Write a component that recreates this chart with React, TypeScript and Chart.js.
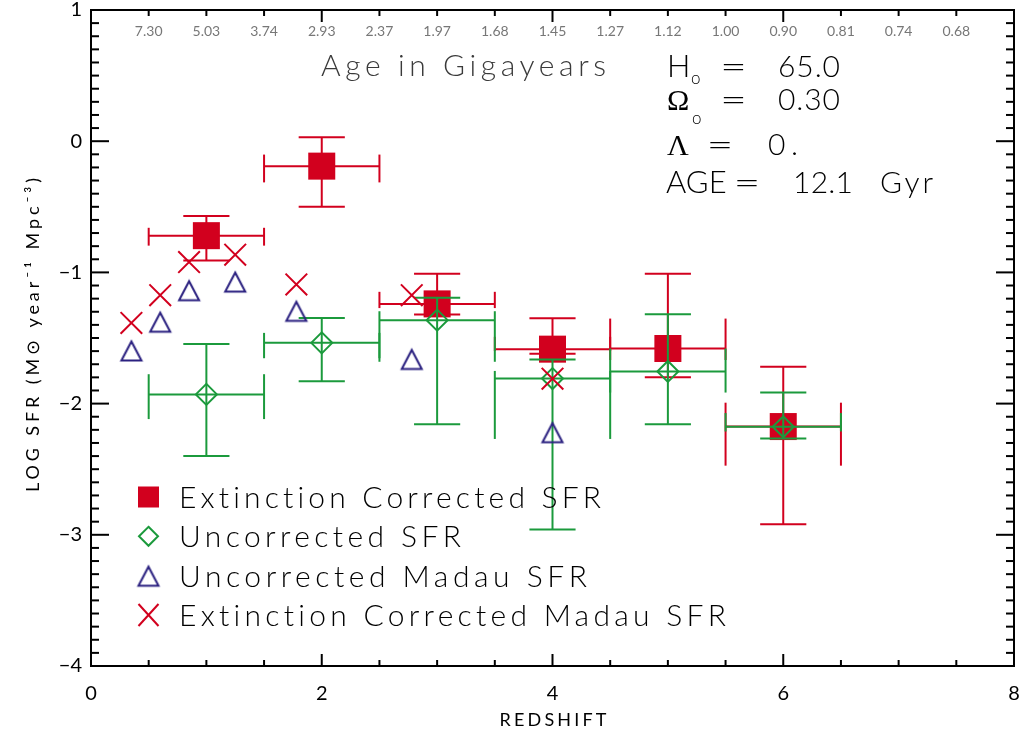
import React, { useEffect, useRef } from 'react';
import { Chart, registerables } from 'chart.js';

Chart.register(...registerables);

// Binned star-formation-rate density (log, per redshift bin)
const redshiftBins = [1, 2, 3, 4, 5, 6];
const binLow = [0.5, 1.5, 2.5, 3.5, 4.5, 5.5];
const binHigh = [1.5, 2.5, 3.5, 4.5, 5.5, 6.5];

const corrSfr = [-0.72, -0.19, -1.24, -1.585, -1.58, -2.175];
const corrSfrHigh = [-0.57, 0.03, -1.01, -1.35, -1.01, -1.72];
const corrSfrLow = [-0.91, -0.5, -1.32, -1.62, -1.8, -2.92];

const uncorrSfr = [-1.93, -1.537, -1.364, -1.809, -1.755, -2.177];
const uncorrSfrHigh = [-1.545, -1.347, -1.194, -1.664, -1.319, -1.915];
const uncorrSfrLow = [-2.4, -1.83, -2.157, -2.96, -2.157, -2.266];

// Madau et al. points
const madauZ = [0.35, 0.6, 0.85, 1.25, 1.78, 2.78, 4.0];
const madauUncorr = [-1.595, -1.376, -1.136, -1.07, -1.293, -1.66, -2.218];
const madauCorr = [-1.385, -1.174, -0.921, -0.865, -1.092, -1.174, -1.81];

// Top axis: cosmic age (Gyr) at each half-unit of redshift
const ageTickZ = [0.5, 1, 1.5, 2, 2.5, 3, 3.5, 4, 4.5, 5, 5.5, 6, 6.5, 7, 7.5];
const ageLabels = ['7.30', '5.03', '3.74', '2.93', '2.37', '1.97', '1.68', '1.45', '1.27', '1.12', '1.00', '0.90', '0.81', '0.74', '0.68'];

const legendLabels = [
  'Extinction Corrected SFR',
  'Uncorrected SFR',
  'Uncorrected Madau SFR',
  'Extinction Corrected Madau SFR',
];

const FONT = "Lato, 'DejaVu Sans', sans-serif";
const SERIF = "'Liberation Serif', 'DejaVu Serif', serif";
const RED = '#d2001e';
const GREEN = '#1b9a3c';
const NAVY = '#2b2180';

function spaced(ctx: CanvasRenderingContext2D, text: string, x: number, y: number, width: number) {
  (ctx as any).letterSpacing = '0px';
  const w0 = ctx.measureText(text).width;
  const n = Array.from(text).length;
  const ls = n > 1 ? (width - w0) / (n - 1) : 0;
  (ctx as any).letterSpacing = `${ls}px`;
  ctx.textAlign = 'left';
  ctx.fillText(text, x, y);
  (ctx as any).letterSpacing = '0px';
}

// wide, thin equals sign centred at (cx, y)
function wideEquals(ctx: CanvasRenderingContext2D, cx: number, y: number) {
  ctx.save();
  ctx.translate(cx, y);
  ctx.scale(1.55, 1);
  ctx.textAlign = 'center';
  ctx.fillText('=', 0, 0);
  ctx.restore();
}

function makeTriangle(color: string, w = 22, h = 21) {
  const c = document.createElement('canvas');
  c.width = w + 4;
  c.height = h + 4;
  const g = c.getContext('2d')!;
  g.strokeStyle = color;
  g.lineWidth = 2;
  g.lineJoin = 'miter';
  g.beginPath();
  g.moveTo(3, h + 1.5);
  g.lineTo(c.width / 2, 3.5);
  g.lineTo(w + 1, h + 1.5);
  g.closePath();
  g.stroke();
  return c;
}

function line(ctx: CanvasRenderingContext2D, x1: number, y1: number, x2: number, y2: number) {
  ctx.beginPath();
  ctx.moveTo(x1, y1);
  ctx.lineTo(x2, y2);
  ctx.stroke();
}

// Error bars with caps sized at 40% of the orthogonal error extent
const errorBarPlugin = {
  id: 'errorBars',
  beforeDatasetDraw(chart: any, args: any) {
    const ds = chart.data.datasets[args.index];
    const err = ds.err;
    if (!err) return;
    const { ctx } = chart;
    const xs = chart.scales.x;
    const ys = chart.scales.y;
    ctx.save();
    ctx.strokeStyle = err.color;
    ctx.lineWidth = 2;
    ctx.lineCap = 'butt';
    ds.data.forEach((p: any, i: number) => {
      const px = xs.getPixelForValue(p.x);
      const py = ys.getPixelForValue(p.y);
      const pxL = xs.getPixelForValue(err.xLow[i]);
      const pxH = xs.getPixelForValue(err.xHigh[i]);
      const pyT = ys.getPixelForValue(err.yHigh[i]);
      const pyB = ys.getPixelForValue(err.yLow[i]);
      const k = 0.4;
      line(ctx, px, pyT, px, pyB);
      line(ctx, pxL, py, pxH, py);
      line(ctx, px - k * (px - pxL), pyT, px + k * (pxH - px), pyT);
      line(ctx, px - k * (px - pxL), pyB, px + k * (pxH - px), pyB);
      line(ctx, pxL, py - k * (py - pyT), pxL, py + k * (pyB - py));
      line(ctx, pxH, py - k * (py - pyT), pxH, py + k * (pyB - py));
    });
    ctx.restore();
  },
};

function makeDecorPlugin(tri: HTMLCanvasElement) {
  return {
    id: 'decor',
    afterDraw(chart: any) {
      const { ctx, chartArea: a } = chart;
      const xs = chart.scales.x;
      const ys = chart.scales.y;
      ctx.save();

      // frame
      ctx.strokeStyle = '#000';
      ctx.lineWidth = 2;
      ctx.strokeRect(a.left, a.top, a.right - a.left, a.bottom - a.top);

      // y ticks on left and right, 0.1 apart
      for (let i = -40; i <= 10; i++) {
        const y = ys.getPixelForValue(i / 10);
        const len = i % 10 === 0 ? 18 : 8;
        line(ctx, a.left, y, a.left + len, y);
        line(ctx, a.right, y, a.right - len, y);
      }
      // x ticks on bottom and top, 0.5 apart
      for (let i = 0; i <= 16; i++) {
        const x = xs.getPixelForValue(i / 2);
        const len = i % 4 === 0 ? 12 : 6;
        line(ctx, x, a.bottom, x, a.bottom - len);
        line(ctx, x, a.top, x, a.top + len);
      }

      // age labels along the top
      ctx.fillStyle = '#777';
      ctx.font = `14px ${FONT}`;
      ctx.textAlign = 'center';
      ctx.textBaseline = 'middle';
      ageTickZ.forEach((z, i) => {
        ctx.fillText(ageLabels[i], xs.getPixelForValue(z), a.top + 21);
      });

      ctx.textBaseline = 'alphabetic';
      ctx.fillStyle = '#3a3a3a';
      ctx.font = `300 30px ${FONT}`;
      spaced(ctx, 'Age in Gigayears', 321, 76, 285);

      // cosmology parameters
      ctx.fillStyle = '#000';
      ctx.textAlign = 'left';
      ctx.font = `300 31px ${FONT}`;
      ctx.fillText('H', 667, 77);
      ctx.fillText('AGE', 666, 193);
      ctx.font = `30px ${SERIF}`;
      ctx.fillText('Ω', 667, 110);
      ctx.fillText('Λ', 667, 155);
      ctx.font = `300 17px ${FONT}`;
      ctx.fillText('o', 691, 84);
      ctx.fillText('o', 692, 124);
      ctx.font = `300 30px ${FONT}`;
      wideEquals(ctx, 733.5, 77);
      wideEquals(ctx, 733.5, 110);
      wideEquals(ctx, 720, 155);
      wideEquals(ctx, 747, 193);
      spaced(ctx, '65.0', 778, 77, 62);
      spaced(ctx, '0.30', 778, 110, 62);
      spaced(ctx, '0.', 768, 155, 30);
      spaced(ctx, '12.1', 793, 193, 60);
      spaced(ctx, 'Gyr', 880, 193, 53);

      // legend
      const rows = [497, 536.3, 575.7, 615];
      const widths = [423, 282, 408, 548];
      const sx = 148.5;
      ctx.fillStyle = RED;
      ctx.fillRect(sx - 10.5, rows[0] - 10.5, 21, 21);
      ctx.strokeStyle = GREEN;
      ctx.lineWidth = 2;
      ctx.beginPath();
      ctx.moveTo(sx, rows[1] - 9.5);
      ctx.lineTo(sx + 9.5, rows[1]);
      ctx.lineTo(sx, rows[1] + 9.5);
      ctx.lineTo(sx - 9.5, rows[1]);
      ctx.closePath();
      ctx.stroke();
      ctx.drawImage(tri, sx - tri.width / 2, rows[2] - tri.height / 2);
      ctx.strokeStyle = RED;
      line(ctx, sx - 10, rows[3] - 11, sx + 10, rows[3] + 11);
      line(ctx, sx - 10, rows[3] + 11, sx + 10, rows[3] - 11);

      ctx.fillStyle = '#000';
      ctx.font = `300 30px ${FONT}`;
      legendLabels.forEach((t, i) => spaced(ctx, t, 179, rows[i] + 11, widths[i]));

      // axis titles
      ctx.font = `18px ${FONT}`;
      spaced(ctx, 'REDSHIFT', 553 - 53.5, 726, 107);
      ctx.translate(39, 335);
      ctx.rotate(-Math.PI / 2);
      spaced(ctx, 'LOG SFR (M⊙ year⁻¹ Mpc⁻³)', -157, 0, 314);

      ctx.restore();
    },
  };
}

export default function App() {
  const ref = useRef<HTMLCanvasElement>(null);

  useEffect(() => {
    const tri = makeTriangle(NAVY);
    const fmt = (v: number) => (v < 0 ? '\u2212' + Math.abs(v) : String(v));
    const chart = new Chart(ref.current!, {
      type: 'scatter',
      data: {
        datasets: [
          {
            label: legendLabels[0],
            data: redshiftBins.map((z, i) => ({ x: z, y: corrSfr[i] })),
            pointStyle: 'rect',
            pointRadius: 19.1,
            pointBackgroundColor: RED,
            pointBorderWidth: 0,
            order: 4,
            err: { xLow: binLow, xHigh: binHigh, yLow: corrSfrLow, yHigh: corrSfrHigh, color: RED },
          } as any,
          {
            label: legendLabels[1],
            data: redshiftBins.map((z, i) => ({ x: z, y: uncorrSfr[i] })),
            pointStyle: 'rectRot',
            pointRadius: 10.5,
            pointBackgroundColor: 'rgba(0,0,0,0)',
            pointBorderColor: GREEN,
            pointBorderWidth: 2,
            order: 3,
            err: { xLow: binLow, xHigh: binHigh, yLow: uncorrSfrLow, yHigh: uncorrSfrHigh, color: GREEN },
          } as any,
          {
            label: legendLabels[2],
            data: madauZ.map((z, i) => ({ x: z, y: madauUncorr[i] })),
            pointStyle: tri,
            pointRadius: 11,
            order: 2,
          } as any,
          {
            label: legendLabels[3],
            data: madauZ.map((z, i) => ({ x: z, y: madauCorr[i] })),
            pointStyle: 'crossRot',
            pointRadius: 15.3,
            pointBorderColor: RED,
            pointBorderWidth: 2,
            order: 1,
          } as any,
        ],
      },
      options: {
        animation: false,
        responsive: true,
        maintainAspectRatio: false,
        events: [],
        layout: { autoPadding: false, padding: { top: 10, right: 7, left: 0, bottom: 0 } },
        plugins: { legend: { display: false }, tooltip: { enabled: false } },
        scales: {
          x: {
            type: 'linear',
            min: 0,
            max: 8,
            ticks: { stepSize: 2, color: '#000', font: { family: FONT, size: 20 }, padding: 16, maxRotation: 0 },
            grid: { display: false, drawTicks: false },
            border: { display: false },
            afterFit: (s: any) => {
              s.height = 68;
              s.paddingLeft = 0;
              s.paddingRight = 0;
            },
          },
          y: {
            type: 'linear',
            min: -4,
            max: 1,
            ticks: { stepSize: 1, color: '#000', font: { family: FONT, size: 20 }, padding: 9, callback: (v: any) => fmt(Number(v)) },
            grid: { display: false, drawTicks: false },
            border: { display: false },
            afterFit: (s: any) => {
              s.width = 91;
              s.paddingTop = 0;
              s.paddingBottom = 0;
            },
          },
        },
      } as any,
      plugins: [errorBarPlugin, makeDecorPlugin(tri)],
    });
    return () => chart.destroy();
  }, []);

  return (
    <div style={{ position: 'absolute', left: 0, top: 0, width: 1021, height: 734, background: '#fff' }}>
      <canvas ref={ref} />
    </div>
  );
}
